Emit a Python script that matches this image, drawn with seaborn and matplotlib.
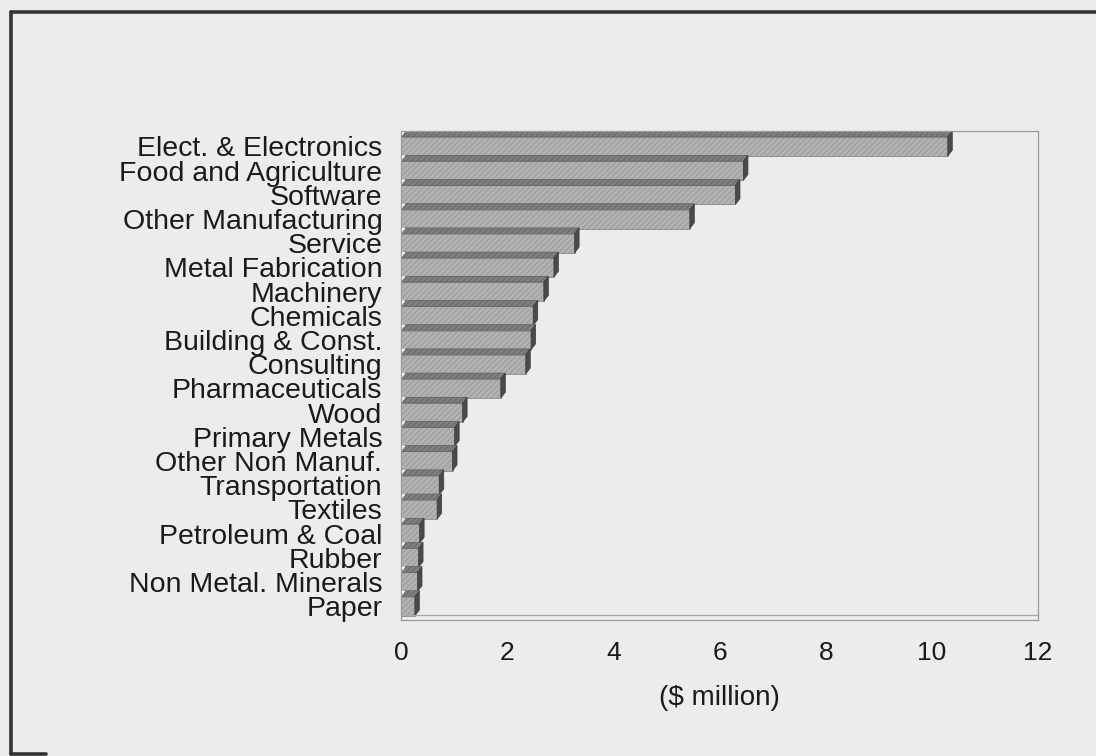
import matplotlib
matplotlib.use("Agg")
import matplotlib.pyplot as plt
from matplotlib.patches import Polygon
from matplotlib.lines import Line2D
import seaborn as sns
import pandas as pd

# Investment by industry sector ($ million)
sectors = [
    "Elect. & Electronics", "Food and Agriculture", "Software",
    "Other Manufacturing", "Service", "Metal Fabrication", "Machinery",
    "Chemicals", "Building & Const.", "Consulting", "Pharmaceuticals",
    "Wood", "Primary Metals", "Other Non Manuf.", "Transportation",
    "Textiles", "Petroleum & Coal", "Rubber", "Non Metal. Minerals", "Paper",
]
amounts = [10.3, 6.45, 6.3, 5.44, 3.27, 2.88, 2.69, 2.49, 2.45, 2.35,
           1.88, 1.16, 1.01, 0.97, 0.72, 0.68, 0.35, 0.33, 0.31, 0.26]
x_ticks = [0, 2, 4, 6, 8, 10, 12]
x_label = "($ million)"

df = pd.DataFrame({"sector": sectors, "amount": amounts})

sns.set_style("white")
plt.rcParams["font.family"] = ["Liberation Sans", "DejaVu Sans"]
plt.rcParams["hatch.linewidth"] = 0.4

BG = "#ececec"
fig = plt.figure(figsize=(10.96, 7.56), dpi=100, facecolor=BG)
ax = fig.add_axes([0.3659, 0.1799, 0.5812, 0.6468])
ax.set_facecolor(BG)

sns.barplot(data=df, x="amount", y="sector", orient="h", ax=ax,
            color="#b2b2b2", width=0.79, edgecolor="#8a8a8a",
            linewidth=0.6, hatch="//////", saturation=1)

# depth of the 3D extrusion (data units)
dx, dy = 0.085, 0.24
for p in list(ax.patches):
    x0, y0 = p.get_x(), p.get_y()
    w, h = p.get_width(), p.get_height()
    top = Polygon([(x0, y0), (x0 + w, y0), (x0 + w + dx, y0 - dy), (x0 + dx, y0 - dy)],
                  closed=True, facecolor="#7e7e7e", edgecolor="#5e5e5e",
                  linewidth=0.5, hatch="//////", zorder=p.get_zorder())
    side = Polygon([(x0 + w, y0), (x0 + w + dx, y0 - dy), (x0 + w + dx, y0 + h - dy), (x0 + w, y0 + h)],
                   closed=True, facecolor="#4a4a4a", edgecolor="#3a3a3a",
                   linewidth=0.5, zorder=p.get_zorder())
    notch = Polygon([(x0, y0), (x0 + dx, y0 - dy), (x0, y0 - dy)], closed=True,
                    facecolor="white", edgecolor="none", zorder=p.get_zorder())
    ax.add_patch(top)
    ax.add_patch(side)
    ax.add_patch(notch)

ax.set_xlim(0, 12)
ax.set_ylim(len(sectors) - 1 + 0.57, -0.64)
ax.set_xticks(x_ticks)
ax.set_xticklabels([str(t) for t in x_ticks])
ax.set_ylabel("")
ax.set_xlabel(x_label, fontsize=20, color="#1a1a1a")
ax.xaxis.set_label_coords(0.5, -(698 - 620) / 489)
ax.xaxis.label.set_va("center")

ax.tick_params(axis="y", length=0, pad=13.5, labelsize=20.5, labelcolor="#1a1a1a")
ax.tick_params(axis="x", length=0, pad=15, labelsize=19, labelcolor="#1a1a1a")
for lbl in ax.get_yticklabels():
    lbl.set_va("center_baseline")

for s in ax.spines.values():
    s.set_color("#9a9a9a")
    s.set_linewidth(0.9)

# back edge of the chart floor
ax.plot([0.008, 1.0], [0.011, 0.011], transform=ax.transAxes,
        color="#a8a8a8", linewidth=0.9, clip_on=False)

# page frame
frame_kw = dict(color="#333333", linewidth=2.6, transform=fig.transFigure)
fig.add_artist(Line2D([11 / 1096, 1.0], [1 - 12 / 756, 1 - 12 / 756], **frame_kw))
fig.add_artist(Line2D([11 / 1096, 11 / 1096], [1 - 12 / 756, 1 - 754 / 756], **frame_kw))
fig.add_artist(Line2D([11 / 1096, 46 / 1096], [1 - 754 / 756, 1 - 754 / 756], **frame_kw))

fig.savefig("out.png", dpi=100, facecolor=BG)
